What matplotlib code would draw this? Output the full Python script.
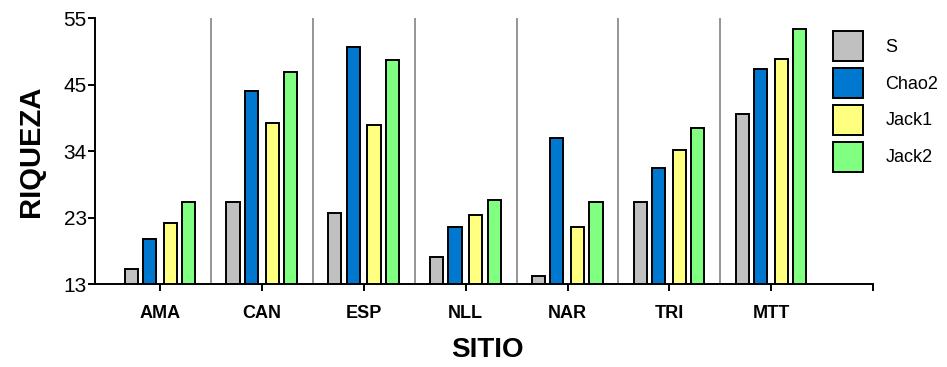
import matplotlib
matplotlib.use("Agg")
import matplotlib.pyplot as plt
import numpy as np

sitios = ["AMA", "CAN", "ESP", "NLL", "NAR", "TRI", "MTT"]
series = ["S", "Chao2", "Jack1", "Jack2"]
s_vals = [15.4, 26.0, 24.2, 17.2, 14.2, 26.0, 39.8]
chao2_vals = [20.1, 43.4, 50.4, 22.0, 36.0, 31.3, 46.9]
jack1_vals = [22.7, 38.4, 38.1, 23.9, 22.0, 34.2, 48.6]
jack2_vals = [26.0, 46.4, 48.4, 26.3, 26.0, 37.7, 53.3]
ytick_labels = ["13", "23", "34", "45", "55"]

colors = ["#c0c0c0", "#0078d0", "#ffff80", "#80ff80"]
offsets = [-0.285, -0.105, 0.10, 0.28]
width = 0.13

plt.rcParams["font.family"] = ["Liberation Sans", "DejaVu Sans"]

fig = plt.figure(figsize=(9.47, 3.67), dpi=100)
ax = fig.add_axes([95 / 947, 1 - 284 / 367, (873 - 95) / 947, (284 - 18) / 367])

x = np.arange(len(sitios))
for vals, name, col, off in zip([s_vals, chao2_vals, jack1_vals, jack2_vals],
                                series, colors, offsets):
    ax.bar(x + off, np.array(vals) - 13, width, bottom=13, color=col,
           edgecolor="black", linewidth=1.4, label=name, zorder=3)

for sep in x[:-1] + 0.5:
    ax.axvline(sep, color="#8c8c8c", linewidth=1.3, zorder=1)

ax.set_xlim(-0.64, 7.0)
ax.set_ylim(13, 55)
ax.set_yticks(np.linspace(13, 55, 5))
ax.set_yticklabels(ytick_labels, fontsize=15)
ax.set_xticks(list(x) + [7])
ax.set_xticklabels(sitios + [""], fontsize=13, fontweight="bold")
ax.tick_params(axis="x", length=5, width=1.4, pad=10)
ax.tick_params(axis="y", length=5, width=1.4, pad=1)

for side in ["top", "right"]:
    ax.spines[side].set_visible(False)
for side in ["left", "bottom"]:
    ax.spines[side].set_linewidth(1.4)

ax.set_ylabel("RIQUEZA", fontsize=21, fontweight="bold", labelpad=13)
fig.text(487 / 947, 1 - 350 / 367, "SITIO", fontsize=20, fontweight="bold",
         ha="center", va="center")

fig.legend(loc="upper left", bbox_to_anchor=(833 / 947, 1 - 31 / 367),
           frameon=False, fontsize=13, handlelength=1.65, handleheight=2.18,
           labelspacing=0.38, handletextpad=1.25, borderpad=0, borderaxespad=0)

fig.savefig("out.png", dpi=100)
